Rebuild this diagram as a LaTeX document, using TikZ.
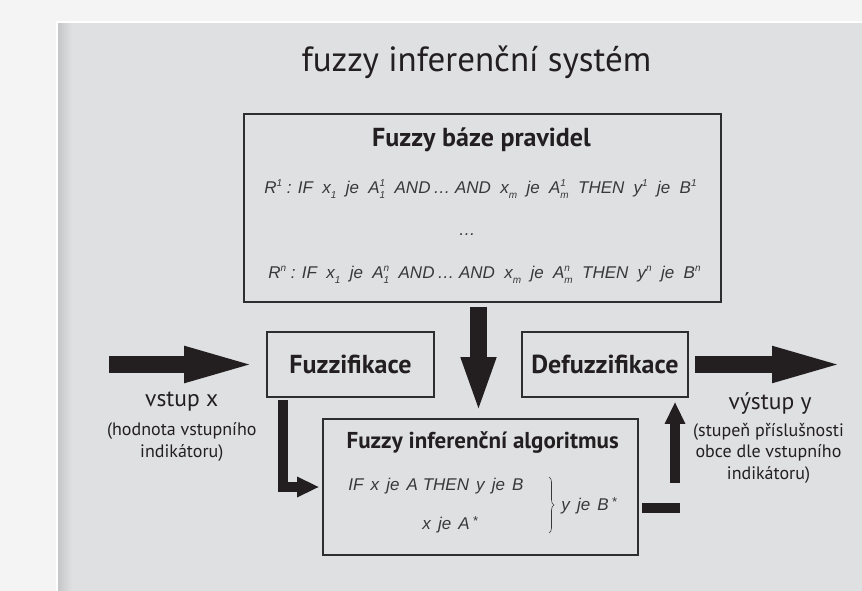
\documentclass[tikz,border=0pt]{standalone}
\usepackage{fontspec}
\setmainfont{PT Sans}
\newfontfamily\formfont{Liberation Sans}
\usetikzlibrary{arrows.meta,decorations.pathreplacing}

\definecolor{ink}{HTML}{231F20}
\definecolor{panel}{HTML}{DFE0E2}
\definecolor{paper}{HTML}{F4F4F4}
\definecolor{frame}{HTML}{2E2E2E}
\definecolor{formula}{HTML}{383838}

\newcommand{\hi}[1]{\raisebox{.42em}{\fontsize{10}{10}\selectfont#1}}
\newcommand{\lo}[1]{\raisebox{-.28em}{\fontsize{10}{10}\selectfont#1}}
\newcommand{\hilo}[2]{\raisebox{-.28em}{\fontsize{10}{12}\selectfont\begin{tabular}[b]{@{}l@{}}#1\\#2\end{tabular}}}
\newcommand{\fstar}{\raisebox{.22em}{\fontsize{13}{13}\selectfont*}}
\newcommand{\gap}{\hspace{.55em}}
\newcommand{\sgap}{\hspace{.42em}}

\begin{document}
\begin{tikzpicture}[x=1pt,y=-1pt,
  box/.style={draw=frame,line width=1.6pt,inner sep=0pt},
  head/.style={font=\fontsize{26}{26}\selectfont\bfseries,text=ink},
  rule/.style={font=\formfont\itshape\fontsize{17}{17}\selectfont,text=formula,anchor=base},
  note/.style={font=\fontsize{18}{21.5}\selectfont,text=ink,align=center,anchor=base},
  bigarrow/.style={draw=ink,line width=17pt,-{Triangle[length=#1,width=31pt]}},
  bigarrow/.default=78pt,
  smallarrow/.style={draw=ink,line width=9.5pt,line join=miter,-{Triangle[length=22pt,width=19pt]}},
  smallbar/.style={draw=ink,line width=9.5pt}]

\useasboundingbox (0,0) rectangle (862,591);
\fill [paper] (0,0) rectangle (862,591);
\fill [panel] (57,22) rectangle (862,591);
\shade [left color=panel!88!black,right color=panel] (57,22) rectangle (72,591);
\draw [white,line width=1.5pt] (57,591) -- (57,22) -- (862,22);

\node [font=\fontsize{35}{35}\selectfont,text=ink,anchor=base] (title) at (476.5,71.7) {fuzzy inferenční systém};

% baze pravidel
\node [box,minimum width=477pt,minimum height=188pt] (base) at (482.5,208) {};
\node [head,anchor=base] (basetitle) at (481.5,146.7) {Fuzzy báze pravidel};
\node [rule] (r1) at (480.5,193.3) {R\hi{1} : IF\gap x\lo{1}\gap je\gap A\hilo{1}{1}\gap AND\,\dots\ AND\gap x\lo{m}\gap je\gap A\hilo{1}{m}\gap THEN\gap y\hi{1}\gap je\gap B\hi{1}};
\node [rule] (rdots) at (467,235) {\dots};
\node [rule] (rn) at (484.5,278.3) {R\hi{n} : IF\gap x\lo{1}\gap je\gap A\hilo{n}{1}\gap AND\,\dots\ AND\gap x\lo{m}\gap je\gap A\hilo{n}{m}\gap THEN\gap y\hi{n}\gap je\gap B\hi{n}};

\node [box,head,minimum width=167pt,minimum height=65pt] (fuz) at (350.5,364.5) {Fuzzifikace};
\node [box,head,minimum width=166pt,minimum height=65pt] (defuz) at (605,364.5) {Defuzzifikace};

% inferencni algoritmus
\node [box,minimum width=315pt,minimum height=136pt] (alg) at (480.5,487) {};
\node [font=\fontsize{23}{23}\selectfont\bfseries,text=ink,anchor=base] (algtitle) at (482.7,448) {Fuzzy inferenční algoritmus};
\node [rule] (ifthen) at (436,490.7) {IF\sgap x\sgap je\sgap A THEN\sgap y\sgap je\sgap B};
\node [rule] (xa) at (450,529.3) {x\sgap je\sgap A\,\fstar};
\node [rule] (yb) at (589,510) {y\sgap je\sgap B\,\fstar};
\draw [formula,line width=.6pt,decorate,decoration={brace,amplitude=5pt}] (549,477) -- (549,533);

\node [note,font=\fontsize{23.5}{23.5}\selectfont] (vstup) at (181.7,406.7) {vstup x};
\node [note] (vstupnote) at (181.8,457) {(hodnota vstupního\\indikátoru)};
\node [note,font=\fontsize{23.5}{23.5}\selectfont] (vystup) at (770,409) {výstup y};
\node [note] (vystupnote) at (768.5,479) {(stupeň příslušnosti\\obce dle vstupního\\indikátoru)};

\coordinate (in) at (109,364.5);
\coordinate (out) at (850,364.5);
\coordinate (drop) at ([xshift=-4pt]base.south);
\coordinate (fuzfoot) at (283,397);
\coordinate (barend) at (680,508);
\coordinate (upfoot) at (675,483);

\draw [bigarrow,shorten >=4pt] (in) -- (fuz.west);
\draw [bigarrow,shorten <=6pt] (defuz.east) -- (out);
\draw [bigarrow=57pt,shorten <=4pt,shorten >=4pt] (drop) -- (drop |- alg.north);
\draw [smallarrow,shorten <=3pt,shorten >=3pt] (fuzfoot) |- (alg.west);
\draw [smallbar,shorten <=3pt] ([yshift=-21pt]alg.east) -- (barend);
\draw [smallarrow,shorten >=4pt] (upfoot) -- (upfoot |- defuz.south);

\end{tikzpicture}
\end{document}
